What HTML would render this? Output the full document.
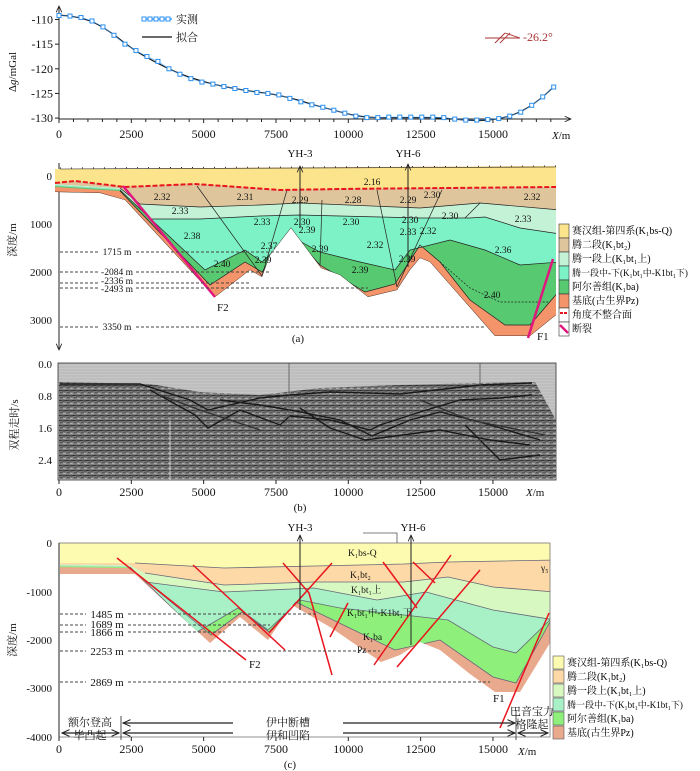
<!DOCTYPE html>
<html><head><meta charset="utf-8">
<style>
html,body{margin:0;padding:0;background:#fff}
svg{display:block;font-family:"Liberation Serif","Noto Serif CJK SC",serif}
.t{font-size:11px;fill:#111}
.s{font-size:9.5px;fill:#111}
</style></head>
<body>
<svg id="fig" width="700" height="771" viewBox="0 0 700 771" xmlns="http://www.w3.org/2000/svg">
<defs>
<marker id="arr" viewBox="0 0 10 10" refX="9" refY="5" markerWidth="7" markerHeight="7" orient="auto-start-reverse"><path d="M0,1 L9,5 L0,9" fill="none" stroke="#222" stroke-width="1.2"/></marker>
<clipPath id="clipA"><polygon points="55,169 556,166 556,315 530,336 495,336 430,262 420,258 410,270 397,290 368,297 340,275 321,268 291,228 270,255 262,277 250,270 215,297 125,200 100,193 55,192"/></clipPath>
<clipPath id="clipC"><polygon points="60,543 550,543 550,643 520,692 495,692 470,674 440,650 420,642 400,655 381,662 330,627 292,605 268,640 240,617 210,643 135,574 60,574"/></clipPath>
<pattern id="seis" width="7" height="5" patternUnits="userSpaceOnUse"><rect width="7" height="5" fill="#7a7a7a"/><path d="M0,1 L7,0" stroke="#2e2e2e" stroke-width="1.1"/><path d="M0,3.2 L3,4" stroke="#bdbdbd" stroke-width="0.9"/><path d="M4,2.5 L7,2" stroke="#444" stroke-width="0.8"/></pattern>
<pattern id="seisTop" width="8" height="3" patternUnits="userSpaceOnUse"><rect width="8" height="3" fill="#c6c6c6"/><path d="M0,1 L8,1" stroke="#aaa" stroke-width="0.6"/></pattern>
</defs>

<!-- ===== TOP GRAVITY CHART ===== -->
<g id="gravity">
  <line x1="59" y1="119" x2="59" y2="6" stroke="#222" marker-end="url(#arr)"/>
  <line x1="59" y1="119" x2="571" y2="119" stroke="#222" marker-end="url(#arr)"/>
  <g id="gyt"></g><g id="gxt"></g>
  <text class="t" transform="translate(16,72) rotate(-90)" text-anchor="middle" font-size="12">Δ<tspan font-style="italic">g</tspan>/mGal</text>
  <text class="t" x="552" y="139"><tspan font-style="italic">X</tspan>/m</text>
  <path id="fitLine" fill="none" stroke="#111" stroke-width="1.2"/>
  <g id="obsPts"></g>
  <g>
    <line x1="142" y1="19" x2="172" y2="19" stroke="#3aa0ff" stroke-width="1.5"/>
    <g fill="#fff" stroke="#2b90f0" stroke-width="1"><rect x="142" y="17" width="4" height="4"/><rect x="148" y="17" width="4" height="4"/><rect x="154" y="17" width="4" height="4"/><rect x="160" y="17" width="4" height="4"/><rect x="166" y="17" width="4" height="4"/></g>
    <text class="t" x="176" y="23" font-size="12">实测</text>
    <line x1="142" y1="37" x2="172" y2="37" stroke="#111" stroke-width="1.2"/>
    <text class="t" x="176" y="41" font-size="12">拟合</text>
  </g>
  <g stroke="#a33" fill="none" stroke-width="0.9">
    <path d="M485,38 L520,38 M495,43 L505,33 M500,43 L510,33 M505,33 L520,38"/>
  </g>
  <text x="523" y="41" font-size="12" fill="#a33">-26.2°</text>
</g>

<!-- ===== PANEL (a) ===== -->
<g id="panelA">
  <line x1="59" y1="163" x2="59" y2="350" stroke="#222" marker-end="url(#arr)"/>
  <text class="t" x="52" y="180" text-anchor="end" font-size="12">0</text>
  <text class="t" x="52" y="228" text-anchor="end" font-size="12">1000</text>
  <text class="t" x="52" y="276" text-anchor="end" font-size="12">2000</text>
  <text class="t" x="52" y="324" text-anchor="end" font-size="12">3000</text>
  <text class="t" transform="translate(16,240) rotate(-90)" text-anchor="middle" font-size="12" fill="#333">深度/m</text>
  <g clip-path="url(#clipA)">
    <rect x="55" y="160" width="505" height="200" fill="#f3946a"/>
    <polygon fill="#57c970" points="55,186 120,190 205,270 245,250 262,262 290,236 320,252 360,262 395,270 410,250 450,240 485,250 520,265 560,262 560,290 530,325 505,325 470,300 440,262 420,245 395,284 365,292 320,265 290,232 262,272 245,262 210,285 120,191 55,187"/>
    <polygon fill="#7cf2c6" points="55,185 120,189 150,219 200,219 260,216 300,215 380,217 420,218 470,218 485,217 520,228 560,234 560,262 520,265 485,250 450,240 410,250 395,270 360,262 320,252 290,236 262,262 245,250 205,270 120,190 55,186"/>
    <polygon fill="#c3f2d6" points="55,184 120,188 140,204 200,207 260,205 300,203 420,208 480,203 560,210 560,234 520,228 485,217 470,218 420,218 380,217 300,215 260,216 200,219 150,219 120,189 55,185"/>
    <polygon fill="#dec59c" points="55,183 75,181 100,184 125,187 195,184 280,190 340,189 560,187 560,210 480,203 420,208 300,203 260,205 200,207 140,204 120,188 55,184"/>
    <polygon fill="#fbe48c" points="55,169 560,166 560,187 340,189 280,190 195,184 125,187 100,184 75,181 55,183"/>
    <g fill="none" stroke="#222" stroke-width="0.7">
      <polyline points="120,188 140,204 200,207 260,205 300,203 420,208 480,203 560,210"/>
      <polyline points="150,219 200,219 260,216 300,215 380,217 420,218 470,218 485,217 520,228 560,234"/>
      <polyline points="120,190 205,270 245,250 262,262 290,236 320,252 360,262 395,270 410,250 450,240 485,250 520,265 560,262"/>
      <polyline points="120,191 210,285 245,262 262,272 290,232 320,265 365,292 395,284 420,245 440,262 470,300 505,325 530,325 560,290"/>
      <polyline points="55,192 100,193 125,200 215,297 250,270 262,277 270,255 291,228 321,268 340,275 368,297 397,290 410,270 420,258 430,262 495,336 530,336 556,315"/>
      <line x1="197" y1="186" x2="262" y2="276"/><line x1="287" y1="190" x2="262" y2="276"/>
      <line x1="377" y1="190" x2="397" y2="287"/><line x1="442" y1="190" x2="397" y2="287"/>
      <line x1="480" y1="203" x2="465" y2="218"/>
      <line x1="322" y1="200" x2="320" y2="265"/>
      <polyline stroke-dasharray="2,1.5" points="440,262 470,288 500,302 550,302"/>
    </g>
  </g>
  <polyline fill="none" stroke="#e8141e" stroke-width="2" stroke-dasharray="5,2" points="55,183 75,181 100,184 125,187 195,184 280,190 340,189 556,187"/>
  <line x1="60" y1="168" x2="556" y2="166" stroke="#222" stroke-width="1" stroke-dasharray="1,10"/>
  <line x1="60" y1="169" x2="556" y2="167" stroke="#222" stroke-width="0.6"/>
  <line x1="123" y1="186" x2="215" y2="297" stroke="#e0187e" stroke-width="2.5"/>
  <line x1="528" y1="338" x2="553" y2="259" stroke="#e0187e" stroke-width="2.5"/>
  <text class="t" x="217" y="311" font-size="12">F2</text>
  <text class="t" x="537" y="340" font-size="12">F1</text>
  <line x1="300" y1="228" x2="300" y2="166" stroke="#222" marker-end="url(#arr)"/>
  <line x1="408" y1="267" x2="408" y2="164" stroke="#222" marker-end="url(#arr)"/>
  <text class="t" x="300" y="157" text-anchor="middle" font-size="12">YH-3</text>
  <text class="t" x="408" y="157" text-anchor="middle" font-size="12">YH-6</text>
  <g class="s" text-anchor="middle">
    <text x="372" y="185">2.16</text>
    <text x="162" y="200">2.32</text><text x="245" y="200">2.31</text><text x="300" y="203">2.29</text><text x="353" y="203">2.28</text><text x="408" y="203">2.29</text><text x="432" y="198">2.30</text><text x="532" y="200">2.32</text>
    <text x="180" y="214">2.33</text><text x="262" y="225">2.33</text><text x="302" y="225">2.30</text><text x="351" y="225">2.30</text><text x="410" y="223">2.30</text><text x="450" y="219">2.30</text><text x="523" y="222">2.33</text>
    <text x="192" y="239">2.38</text><text x="269" y="249">2.37</text><text x="307" y="233">2.39</text><text x="375" y="248">2.32</text><text x="408" y="235">2.33</text><text x="428" y="234">2.32</text><text x="503" y="253">2.36</text>
    <text x="222" y="267">2.40</text><text x="263" y="263">2.39</text><text x="320" y="252">2.39</text><text x="360" y="273">2.39</text><text x="407" y="262">2.39</text><text x="492" y="298">2.40</text>
  </g>
  <g stroke="#444" stroke-dasharray="3,2" stroke-width="0.9">
    <line x1="60" y1="252" x2="98" y2="252"/><line x1="136" y1="252" x2="300" y2="252"/>
    <line x1="60" y1="272" x2="98" y2="272"/><line x1="136" y1="272" x2="270" y2="272"/>
    <line x1="60" y1="283" x2="98" y2="283"/><line x1="136" y1="283" x2="250" y2="283"/>
    <line x1="60" y1="288" x2="98" y2="288"/><line x1="136" y1="288" x2="368" y2="288"/>
    <line x1="60" y1="327" x2="98" y2="327"/><line x1="136" y1="327" x2="484" y2="327"/>
  </g>
  <g class="s" text-anchor="middle">
    <text x="117" y="255">1715 m</text><text x="117" y="275">-2084 m</text><text x="117" y="284">-2336 m</text><text x="117" y="292">-2493 m</text><text x="117" y="330">3350 m</text>
  </g>
  <text class="t" x="298" y="342" text-anchor="middle" font-size="12">(a)</text>
  <g font-size="10">
    <rect x="559" y="224" width="10" height="14" fill="#fbe48c" stroke="#333" stroke-width="0.6"/><text x="572" y="234">赛汉组-第四系(K₁bs-Q)</text>
    <rect x="559" y="238" width="10" height="14" fill="#dec59c" stroke="#333" stroke-width="0.6"/><text x="572" y="248">腾二段(K₁bt₂)</text>
    <rect x="559" y="252" width="10" height="14" fill="#c3f2d6" stroke="#333" stroke-width="0.6"/><text x="572" y="262">腾一段上(K₁bt₁上)</text>
    <rect x="559" y="266" width="10" height="14" fill="#7cf2c6" stroke="#333" stroke-width="0.6"/><text x="572" y="276" font-size="9">腾一段中-下(K₁bt₁中-K1bt₁下)</text>
    <rect x="559" y="280" width="10" height="14" fill="#57c970" stroke="#333" stroke-width="0.6"/><text x="572" y="290">阿尔善组(K₁ba)</text>
    <rect x="559" y="294" width="10" height="14" fill="#f3946a" stroke="#333" stroke-width="0.6"/><text x="572" y="304">基底(古生界Pz)</text>
    <rect x="559" y="308" width="10" height="14" fill="#fff" stroke="#333" stroke-width="0.6"/><line x1="560" y1="313" x2="568" y2="313" stroke="#e8141e" stroke-width="2" stroke-dasharray="3,1"/><text x="572" y="318">角度不整合面</text>
    <rect x="559" y="322" width="10" height="14" fill="#fff" stroke="#333" stroke-width="0.6"/><line x1="560" y1="325" x2="568" y2="333" stroke="#e0187e" stroke-width="2.5"/><text x="572" y="332">断裂</text>
  </g>
</g>

<!-- ===== PANEL (b) SEISMIC ===== -->
<g id="panelB">
  <rect x="58" y="363" width="498" height="117" fill="url(#seisTop)" stroke="#333" stroke-width="0.8"/>
  <polygon fill="url(#seis)" points="59,382 150,384 200,392 260,395 320,388 400,385 480,383 535,382 556,420 556,479 59,479"/>
  <g fill="none" stroke="#1a1a1a" stroke-width="1.4">
    <polyline points="60,384 140,384 190,400 208,410 260,398 290,395 330,392 400,394 480,385 532,383"/>
    <polyline points="150,390 195,415 208,428 240,410 280,425 290,416 330,420 370,430 380,425 420,412 460,400 500,398 532,395"/>
    <polyline points="220,400 260,405 290,410 340,420 372,436 410,420 440,412 480,422 540,440"/>
    <polyline points="300,408 330,428 365,440 440,430 490,440 530,445"/>
    <polyline points="465,425 500,460 540,455"/>
    <polyline points="160,395 200,410 230,420 260,430" stroke="#333"/>
    <polyline points="420,400 470,420 520,430 545,435" stroke="#333"/>
  </g>
  <g fill="none" stroke="#555" stroke-width="0.8">
    <line x1="289" y1="363" x2="289" y2="480"/><line x1="480" y1="363" x2="480" y2="450"/><line x1="170" y1="420" x2="170" y2="480" stroke="#ddd"/>
  </g>
  <g class="t" text-anchor="end" font-size="12">
    <text x="52" y="368">0.0</text><text x="52" y="400">0.8</text><text x="52" y="432">1.6</text><text x="52" y="464">2.4</text>
  </g>
  <text class="t" transform="translate(18,425) rotate(-90)" text-anchor="middle" font-size="12" fill="#333">双程走时/s</text>
  <g id="bxt"></g>
  <text class="t" x="526" y="496" font-size="12"><tspan font-style="italic">X</tspan>/m</text>
  <text class="t" x="300" y="511" text-anchor="middle" font-size="12">(b)</text>
</g>

<!-- ===== PANEL (c) ===== -->
<g id="panelC">
  <g clip-path="url(#clipC)">
    <rect x="55" y="540" width="500" height="160" fill="#e8a98c"/>
    <polygon fill="#8ef07a" points="55,566 130,567 197,632 238,608 268,630 300,600 340,608 404,615 448,620 493,647 516,653 555,615 555,613 516,683 493,677 440,640 395,650 296,602 269,632 242,612 211,635 130,568 55,567"/>
    <polygon fill="#a8f0c6" points="55,565 130,566 145,582 224,592 314,588 377,600 426,592 493,610 555,620 555,615 516,653 493,647 448,620 404,615 340,608 300,600 268,630 238,608 197,632 130,567 55,566"/>
    <polygon fill="#d8f8c2" points="55,564 130,565 145,573 224,585 314,582 404,582 448,577 493,587 555,592 555,620 493,610 426,592 377,600 314,588 224,592 145,582 130,566 55,565"/>
    <polygon fill="#fcd9a6" points="55,563 135,563 224,568 314,566 404,564 448,562 555,560 555,592 493,587 448,577 404,582 314,582 224,585 145,573 130,565 55,564"/>
    <polygon fill="#fdfbb0" points="55,540 555,540 555,560 448,562 404,564 314,566 224,568 135,563 55,563"/>
    <g fill="none" stroke="#667" stroke-width="0.8">
      <polyline points="135,563 224,568 314,566 404,564 448,562 555,560"/>
      <polyline points="145,573 224,585 314,582 404,582 448,577 493,587 555,592"/>
      <polyline points="145,582 224,592 314,588 377,600 426,592 493,610 555,620"/>
      <polyline points="130,567 197,632 238,608 268,630 300,600 340,608 404,615 448,620 493,647 516,653 555,615"/>
      <polyline points="130,568 211,635 242,612 269,632 296,602 395,650 440,640 493,677 516,683 555,613"/>
    </g>
  </g>
  <rect x="59" y="543" width="491" height="194" fill="none" stroke="#777" stroke-width="0.8"/>
  <g fill="none" stroke="#e8141e" stroke-width="1.5">
    <line x1="117" y1="558" x2="246" y2="660"/>
    <line x1="193" y1="565" x2="285" y2="650"/>
    <polyline points="283,563 309,593 332,675"/>
    <line x1="332" y1="563" x2="269" y2="633"/>
    <line x1="348" y1="603" x2="330" y2="637"/>
    <line x1="383" y1="562" x2="417" y2="608"/>
    <line x1="413" y1="562" x2="435" y2="583"/>
    <line x1="451" y1="555" x2="374" y2="665"/>
    <line x1="480" y1="570" x2="397" y2="667"/>
    <line x1="549" y1="613" x2="500" y2="728"/>
  </g>
  <line x1="300" y1="610" x2="300" y2="535" stroke="#222" marker-end="url(#arr)"/>
  <line x1="411" y1="645" x2="411" y2="535" stroke="#222" marker-end="url(#arr)"/>
  <polyline points="363,533 397,533 397,543" fill="none" stroke="#555" stroke-width="0.8"/>
  <text class="t" x="300" y="531" text-anchor="middle" font-size="12">YH-3</text>
  <text class="t" x="413" y="531" text-anchor="middle" font-size="12">YH-6</text>
  <g class="s">
    <text x="348" y="556">K₁bs-Q</text><text x="350" y="578">K₁bt₂</text><text x="351" y="593">K₁bt₁上</text><text x="347" y="616">K₁bt₁中-K1bt₁下</text><text x="363" y="640">K₁ba</text><text x="357" y="653">Pz</text><text x="541" y="571">γ₅</text>
  </g>
  <text class="t" x="249" y="668" font-size="12">F2</text>
  <text class="t" x="493" y="702" font-size="12">F1</text>
  <g stroke="#444" stroke-dasharray="3,2" stroke-width="0.9">
    <line x1="60" y1="614" x2="86" y2="614"/><line x1="128" y1="614" x2="318" y2="614"/>
    <line x1="60" y1="625" x2="86" y2="625"/><line x1="128" y1="625" x2="270" y2="625"/>
    <line x1="60" y1="632" x2="86" y2="632"/><line x1="128" y1="632" x2="225" y2="632"/>
    <line x1="60" y1="651" x2="86" y2="651"/><line x1="128" y1="651" x2="380" y2="651"/>
    <line x1="60" y1="682" x2="86" y2="682"/><line x1="128" y1="682" x2="490" y2="682"/>
  </g>
  <g class="t" font-size="12" text-anchor="middle">
    <text x="107" y="618">1485 m</text><text x="107" y="628">1689 m</text><text x="107" y="636">1866 m</text><text x="107" y="655">2253 m</text><text x="107" y="686">2869 m</text>
  </g>
  <line x1="59" y1="543" x2="59" y2="737" stroke="#222"/>
  <g class="t" text-anchor="end" font-size="12">
    <text x="52" y="547">0</text><text x="52" y="596">-1000</text><text x="52" y="644">-2000</text><text x="52" y="692">-3000</text><text x="52" y="741">-4000</text>
  </g>
  <text class="t" transform="translate(16,640) rotate(-90)" text-anchor="middle" font-size="12" fill="#333">深度/m</text>
  <g stroke="#222" stroke-width="1.2" fill="none">
    <line x1="123" y1="723" x2="233" y2="723" marker-start="url(#arr)"/>
    <line x1="343" y1="723" x2="515" y2="723" marker-end="url(#arr)"/>
    <line x1="62" y1="733" x2="119" y2="733" marker-start="url(#arr)" marker-end="url(#arr)"/>
    <line x1="123" y1="733" x2="233" y2="733" marker-start="url(#arr)"/>
    <line x1="343" y1="733" x2="515" y2="733" marker-end="url(#arr)"/>
    <line x1="518" y1="733" x2="548" y2="733" marker-start="url(#arr)" marker-end="url(#arr)"/>
    <line x1="121" y1="716" x2="121" y2="740" stroke-width="0.8"/>
    <line x1="516" y1="710" x2="516" y2="740" stroke-width="0.8"/>
  </g>
  <g class="t" font-size="11" text-anchor="middle">
    <text x="90" y="726">额尔登高</text><text x="90" y="739">毕凸起</text>
    <text x="288" y="726">伊中断槽</text><text x="288" y="739">伊和凹陷</text>
    <text x="532" y="715">巴音宝力</text><text x="532" y="728">格隆起</text>
  </g>
  <g id="cxt"></g>
  <text class="t" x="518" y="755" font-size="12"><tspan font-style="italic">X</tspan>/m</text>
  <text class="t" x="290" y="768" text-anchor="middle" font-size="12">(c)</text>
  <g font-size="10">
    <rect x="553" y="656" width="11" height="13" fill="#fdfbb0" stroke="#555" stroke-width="0.6"/><text x="567" y="666">赛汉组-第四系(K₁bs-Q)</text>
    <rect x="553" y="670" width="11" height="13" fill="#fcd9a6" stroke="#555" stroke-width="0.6"/><text x="567" y="680">腾二段(K₁bt₂)</text>
    <rect x="553" y="684" width="11" height="13" fill="#d8f8c2" stroke="#555" stroke-width="0.6"/><text x="567" y="694">腾一段上(K₁bt₁上)</text>
    <rect x="553" y="698" width="11" height="13" fill="#a8f0c6" stroke="#555" stroke-width="0.6"/><text x="567" y="708" font-size="9">腾一段中-下(K₁bt₁中-K1bt₁下)</text>
    <rect x="553" y="712" width="11" height="13" fill="#8ef07a" stroke="#555" stroke-width="0.6"/><text x="567" y="722">阿尔善组(K₁ba)</text>
    <rect x="553" y="726" width="11" height="13" fill="#e8a98c" stroke="#555" stroke-width="0.6"/><text x="567" y="736">基底(古生界Pz)</text>
  </g>
</g>
</svg>

<script>
const distances = [0,380,760,1140,1520,1900,2280,2660,3040,3420,3800,4180,4560,4940,5320,5700,6080,6460,6840,7220,7600,7980,8360,8740,9120,9500,9880,10260,10640,11020,11400,11780,12160,12540,12920,13300,13680,14060,14440,14820,15200,15580,15960,16340,16720,17100];
const measured = [-109.2,-109.3,-109.6,-110.3,-111.5,-113.2,-115.0,-116.3,-117.5,-118.5,-120.0,-121.1,-122.0,-122.7,-123.1,-123.6,-124.0,-124.4,-124.8,-125.0,-125.3,-126.0,-126.7,-127.3,-127.8,-128.4,-129.0,-129.6,-129.9,-129.9,-129.8,-129.8,-129.8,-129.8,-129.8,-129.9,-130.2,-130.4,-130.4,-130.3,-130.1,-129.6,-128.8,-127.4,-125.7,-123.7];
const fitted = [-109.1,-109.3,-109.7,-110.4,-111.6,-113.1,-114.8,-116.4,-117.7,-118.9,-120.0,-121.0,-121.8,-122.5,-123.1,-123.6,-124.0,-124.4,-124.7,-125.0,-125.4,-125.9,-126.5,-127.2,-127.8,-128.4,-129.0,-129.5,-129.8,-129.9,-129.9,-129.9,-129.9,-129.9,-129.9,-130.0,-130.2,-130.4,-130.5,-130.4,-130.1,-129.6,-128.7,-127.4,-125.7,-123.7];
const yTicks = [-110,-115,-120,-125,-130];
const xTickValues = [0,2500,5000,7500,10000,12500,15000];
const xTickLabels = ["0","2500","5000","7500","10000","12500","15000"];

const NS = "http://www.w3.org/2000/svg";
const xs = m => 59 + m * 0.02893;
const ys = v => 19.5 + (-110 - v) * 4.93;
function mk(tag, attrs, parent){const e=document.createElementNS(NS,tag);for(const k in attrs)e.setAttribute(k,attrs[k]);parent.appendChild(e);return e;}

const gyt = document.getElementById('gyt');
yTicks.forEach(v=>{
  const l = mk('line',{x1:55,x2:59,y1:ys(v),y2:ys(v),stroke:'#222'},gyt);
  
  
  const t = mk('text',{x:53,y:ys(v)+4,'text-anchor':'end','font-size':12,fill:'#111'},gyt);
  t.textContent = v;
  
  
});
function xAxisTicks(gid, yAxis, yLabel, minor){
  const g = document.getElementById(gid);
  xTickValues.forEach((v,i)=>{
    const l = mk('line',{x1:xs(v),x2:xs(v),y1:yAxis,y2:yAxis+4,stroke:'#222'},g);
    
    
    const t = mk('text',{x:xs(v),y:yLabel,'text-anchor':'middle','font-size':12,fill:'#111'},g);
    t.textContent = xTickLabels[i];
    
    
  });
  if(minor){for(let m=500;m<17500;m+=500){if(m%2500){const l=mk('line',{x1:xs(m),x2:xs(m),y1:yAxis,y2:yAxis+3,stroke:'#222'},g);}}}
}
xAxisTicks('gxt',119,138,true);
xAxisTicks('bxt',480,496,false);
xAxisTicks('cxt',737,753,false);

let d='';
distances.forEach((m,i)=>{d+=(i?'L':'M')+xs(m).toFixed(1)+','+ys(fitted[i]).toFixed(1);});
document.getElementById('fitLine').setAttribute('d',d);
const pts = document.getElementById('obsPts');
let d2='';
distances.forEach((m,i)=>{d2+=(i?'L':'M')+xs(m).toFixed(1)+','+ys(measured[i]).toFixed(1);});
mk('path',{d:d2,fill:'none',stroke:'#3aa0ff','stroke-width':0.8,opacity:0.7},pts);
distances.forEach((m,i)=>{
  const r = mk('rect',{x:xs(m)-2,y:ys(measured[i])-2,width:4,height:4,fill:'#fff',stroke:'#2b90f0','stroke-width':1},pts);
  
  
});
</script>
</body></html>
